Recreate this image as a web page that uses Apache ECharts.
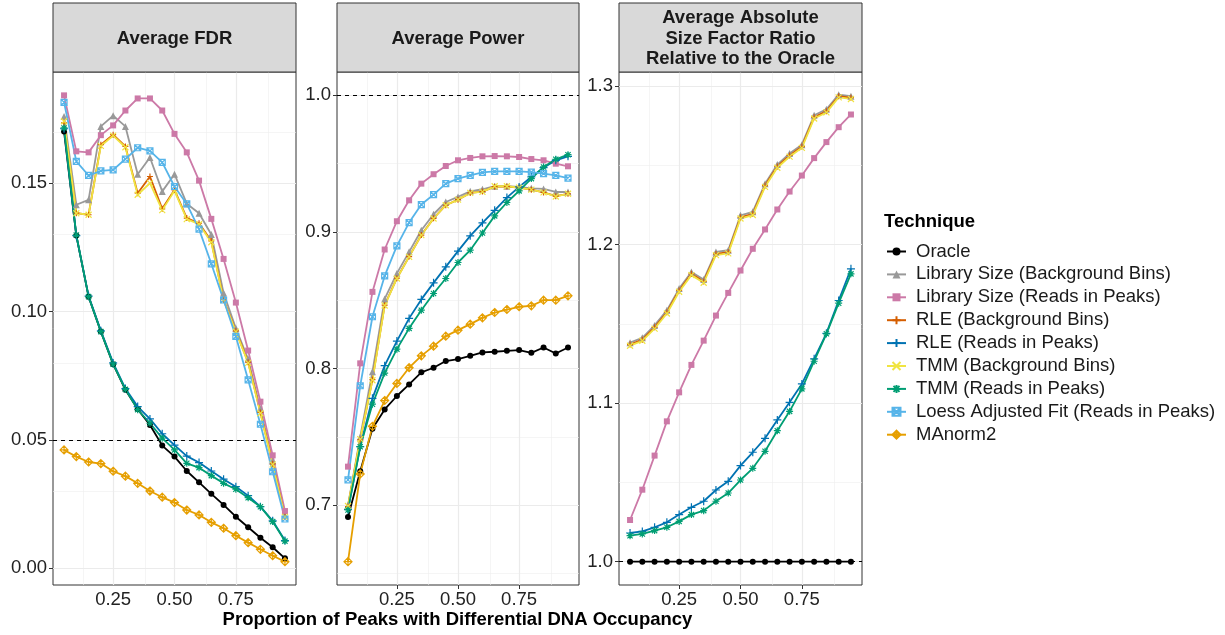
<!DOCTYPE html>
<html><head><meta charset="utf-8">
<script src="https://cdn.jsdelivr.net/npm/echarts@6/dist/echarts.min.js"></script>
<style>html,body{margin:0;padding:0;background:#fff}#c{width:1225px;height:635px}</style>
</head><body><div id="c"></div>
<script>
// ---------- data ----------
const proportion = [0.05,0.10,0.15,0.20,0.25,0.30,0.35,0.40,0.45,0.50,0.55,0.60,0.65,0.70,0.75,0.80,0.85,0.90,0.95];
const techniques = ['Oracle','Library Size (Background Bins)','Library Size (Reads in Peaks)','RLE (Background Bins)','RLE (Reads in Peaks)','TMM (Background Bins)','TMM (Reads in Peaks)','Loess Adjusted Fit (Reads in Peaks)','MAnorm2'];
const panelTitles = ['Average FDR','Average Power','Average Absolute\nSize Factor Ratio\nRelative to the Oracle'];
const xTicks = [0.25,0.50,0.75];
const yTicksFdr = [0.00,0.05,0.10,0.15];
const yTicksPower = [0.7,0.8,0.9,1.0];
const yTicksRatio = [1.0,1.1,1.2,1.3];
const refLines = [0.05,1.0,1.0];

// Average FDR
const fdrOracle   = [0.1701,0.1296,0.1058,0.0922,0.0795,0.0695,0.0620,0.0558,0.0478,0.0435,0.0379,0.0335,0.0290,0.0247,0.0201,0.0160,0.0119,0.0082,0.0039];
const fdrLibBg    = [0.1760,0.1416,0.1435,0.1721,0.1763,0.1721,0.1535,0.1600,0.1468,0.1535,0.1420,0.1383,0.1300,0.1072,0.0935,0.0815,0.0620,0.0418,0.0205];
const fdrLibReads = [0.1842,0.1624,0.1620,0.1687,0.1725,0.1783,0.1830,0.1830,0.1783,0.1692,0.1620,0.1510,0.1361,0.1205,0.1035,0.0848,0.0649,0.0440,0.0223];
const fdrRleBg    = [0.1735,0.1383,0.1377,0.1650,0.1689,0.1643,0.1461,0.1526,0.1400,0.1474,0.1364,0.1344,0.1275,0.1046,0.0925,0.0803,0.0607,0.0407,0.0201];
const fdrRleReads = [0.1712,0.1296,0.1060,0.0925,0.0800,0.0700,0.0630,0.0582,0.0524,0.0480,0.0437,0.0412,0.0379,0.0347,0.0318,0.0283,0.0240,0.0185,0.0108];
const fdrTmmBg    = [0.1741,0.1383,0.1377,0.1645,0.1685,0.1640,0.1455,0.1500,0.1395,0.1470,0.1360,0.1340,0.1270,0.1044,0.0922,0.0800,0.0604,0.0405,0.0200];
const fdrTmmReads = [0.1715,0.1298,0.1058,0.0922,0.0795,0.0697,0.0618,0.0565,0.0507,0.0461,0.0409,0.0392,0.0361,0.0331,0.0308,0.0275,0.0240,0.0182,0.0106];
const fdrLoess    = [0.1815,0.1585,0.1530,0.1548,0.1552,0.1594,0.1638,0.1626,0.1581,0.1487,0.1419,0.1321,0.1186,0.1045,0.0903,0.0734,0.0561,0.0376,0.0192];
const fdrMAnorm2  = [0.0461,0.0435,0.0414,0.0408,0.0378,0.0359,0.0331,0.0301,0.0277,0.0256,0.0227,0.0208,0.0179,0.0156,0.0127,0.0100,0.0074,0.0049,0.0026];

// Average Power
const powOracle   = [0.6915,0.7250,0.7560,0.7702,0.7800,0.7885,0.7973,0.8007,0.8056,0.8070,0.8094,0.8119,0.8124,0.8131,0.8136,0.8116,0.8155,0.8111,0.8155];
const powLibBg    = [0.7000,0.7500,0.7978,0.8510,0.8697,0.8855,0.9013,0.9130,0.9220,0.9257,0.9298,0.9313,0.9335,0.9335,0.9330,0.9320,0.9315,0.9293,0.9293];
const powLibReads = [0.7283,0.8039,0.8562,0.8872,0.9079,0.9232,0.9354,0.9423,0.9483,0.9525,0.9542,0.9554,0.9556,0.9554,0.9549,0.9534,0.9525,0.9500,0.9481];
const powRleBg    = [0.6990,0.7480,0.7920,0.8465,0.8662,0.8820,0.8978,0.9100,0.9196,0.9237,0.9286,0.9296,0.9332,0.9333,0.9325,0.9310,0.9290,0.9262,0.9280];
const powRleReads = [0.6970,0.7429,0.7783,0.8022,0.8202,0.8368,0.8507,0.8628,0.8745,0.8860,0.8972,0.9067,0.9159,0.9252,0.9330,0.9403,0.9471,0.9525,0.9554];
const powTmmBg    = [0.6995,0.7485,0.7915,0.8462,0.8660,0.8818,0.8977,0.9099,0.9196,0.9237,0.9286,0.9294,0.9335,0.9335,0.9325,0.9310,0.9290,0.9260,0.9280];
const powTmmReads = [0.6966,0.7429,0.7740,0.7968,0.8143,0.8295,0.8428,0.8550,0.8660,0.8777,0.8867,0.8993,0.9118,0.9216,0.9301,0.9391,0.9476,0.9532,0.9566];
const powLoess    = [0.7186,0.7875,0.8380,0.8679,0.8899,0.9069,0.9201,0.9274,0.9354,0.9391,0.9415,0.9437,0.9444,0.9444,0.9444,0.9439,0.9427,0.9415,0.9395];
const powMAnorm2  = [0.6588,0.7230,0.7578,0.7767,0.7892,0.8007,0.8094,0.8165,0.8238,0.8282,0.8326,0.8372,0.8411,0.8433,0.8453,0.8460,0.8501,0.8501,0.8533];

// Average Absolute Size Factor Ratio Relative to the Oracle
const ratioOracle   = [1,1,1,1,1,1,1,1,1,1,1,1,1,1,1,1,1,1,1];
const ratioLibBg    = [1.1381,1.1412,1.1490,1.1585,1.1722,1.1827,1.1779,1.1953,1.1964,1.2184,1.2206,1.2384,1.2504,1.2574,1.2630,1.2815,1.2853,1.2945,1.2935];
const ratioLibReads = [1.0263,1.0454,1.0669,1.0885,1.1068,1.1241,1.1394,1.1552,1.1695,1.1836,1.1973,1.2095,1.2221,1.2334,1.2435,1.2545,1.2646,1.2740,1.2820];
const ratioRleBg    = [1.1369,1.1400,1.1478,1.1573,1.1710,1.1815,1.1767,1.1941,1.1952,1.2172,1.2194,1.2372,1.2492,1.2562,1.2618,1.2803,1.2841,1.2935,1.2926];
const ratioRleReads = [1.0181,1.0191,1.0217,1.0248,1.0297,1.0343,1.0381,1.0452,1.0507,1.0606,1.0690,1.0778,1.0894,1.1005,1.1121,1.1279,1.1440,1.1647,1.1847];
const ratioTmmBg    = [1.1362,1.1393,1.1470,1.1565,1.1702,1.1807,1.1759,1.1933,1.1944,1.2164,1.2186,1.2364,1.2484,1.2554,1.2610,1.2795,1.2833,1.2928,1.2918];
const ratioTmmReads = [1.0164,1.0175,1.0196,1.0217,1.0254,1.0297,1.0322,1.0381,1.0433,1.0515,1.0589,1.0696,1.0826,1.0948,1.1090,1.1264,1.1437,1.1630,1.1815];

// ---------- styling ----------
const FONT = '"Liberation Sans", Arial, Helvetica, sans-serif';
const colors = ['#000000','#999999','#CC79A7','#D55E00','#0072B2','#F0E442','#009E73','#56B4E9','#E69F00'];
const symbols = [
  {symbol:'circle', size:6, filled:true},
  {symbol:'triangle', size:7, filled:true},
  {symbol:'rect', size:6, filled:true},
  {symbol:'path://M0,4L8,4M4,0L4,8', size:6, filled:false},
  {symbol:'path://M0,4L8,4M4,0L4,8', size:8, filled:false},
  {symbol:'path://M0,0L8,8M8,0L0,8', size:6, filled:false},
  {symbol:'path://M0,4L8,4M4,0L4,8M1,1L7,7M7,1L1,7', size:7, filled:false},
  {symbol:'path://M0,0L8,0L8,8L0,8ZM0,0L8,8M8,0L0,8', size:6, filled:false},
  {symbol:'path://M4,0L8,4L4,8L0,4ZM0,4L8,4M4,0L4,8', size:8, filled:false}
];
const panelData = [
  [fdrOracle,fdrLibBg,fdrLibReads,fdrRleBg,fdrRleReads,fdrTmmBg,fdrTmmReads,fdrLoess,fdrMAnorm2],
  [powOracle,powLibBg,powLibReads,powRleBg,powRleReads,powTmmBg,powTmmReads,powLoess,powMAnorm2],
  [ratioOracle,ratioLibBg,ratioLibReads,ratioRleBg,ratioRleReads,ratioTmmBg,ratioTmmReads,null,null]
];
const yTicks = [yTicksFdr, yTicksPower, yTicksRatio];
const yDigits = [2,1,1];
const yRanges = [[-0.0065,0.1933],[0.6417,1.0171],[0.9853,1.3088]];
const gridsPos = [{left:53, width:243},{left:337, width:242},{left:619, width:243}];
const TOP = 72, HEIGHT = 513;

const grids = [], xAxes = [], yAxes = [], series = [], graphics = [];
function minors(t){const r=[];for(let i=0;i<t.length-1;i++)r.push((t[i]+t[i+1])/2);return r;}

for (let p=0;p<3;p++){
  grids.push({left:gridsPos[p].left, top:TOP, width:gridsPos[p].width, height:HEIGHT,
    show:true, backgroundColor:'#fff', borderColor:'#333333', borderWidth:1});
  xAxes.push({type:'value', gridIndex:p, min:0.005, max:0.995,
    axisLine:{show:false}, splitLine:{show:false},
    axisTick:{show:true, customValues:xTicks, length:4, lineStyle:{color:'#333', width:1}},
    axisLabel:{customValues:xTicks, formatter:v=>v.toFixed(2), fontSize:18.5, color:'#222', margin:5, fontFamily:FONT}});
  yAxes.push({type:'value', gridIndex:p, min:yRanges[p][0], max:yRanges[p][1],
    axisLine:{show:false}, splitLine:{show:false},
    axisTick:{show:true, customValues:yTicks[p], length:4, lineStyle:{color:'#333', width:1}},
    axisLabel:{customValues:yTicks[p], formatter:v=>v.toFixed(yDigits[p]), fontSize:18.5, color:'#222', margin:6, fontFamily:FONT}});

  // gridlines
  const xMinor = [0.125].concat(minors(xTicks), [0.875]);
  const yT = yTicks[p];
  const step = yT[1]-yT[0];
  const yMinor = [yT[0]-step/2].concat(minors(yT), [yT[yT.length-1]+step/2]);
  const gl = [];
  xMinor.forEach(v=>gl.push({xAxis:v, lineStyle:{color:'#EFEFEF', width:0.6, type:'solid'}}));
  yMinor.forEach(v=>gl.push({yAxis:v, lineStyle:{color:'#EFEFEF', width:0.6, type:'solid'}}));
  xTicks.forEach(v=>gl.push({xAxis:v, lineStyle:{color:'#EBEBEB', width:1.2, type:'solid'}}));
  yT.forEach(v=>gl.push({yAxis:v, lineStyle:{color:'#EBEBEB', width:1.2, type:'solid'}}));
  series.push({type:'line', xAxisIndex:p, yAxisIndex:p, data:[], silent:true, z:1,
    markLine:{z:1, silent:true, symbol:['none','none'], label:{show:false}, animation:false, data:gl}});

  // reference dashed line (under the data lines)
  series.push({type:'line', xAxisIndex:p, yAxisIndex:p, data:[], silent:true, z:2,
    markLine:{z:2, silent:true, symbol:['none','none'], label:{show:false}, animation:false,
      data:[{yAxis:refLines[p]}], lineStyle:{color:'#000', width:1, type:[4,4]}}});

  panelData[p].forEach((ys,k)=>{
    if(!ys) return;
    const st = symbols[k];
    series.push({name:techniques[k], type:'line', xAxisIndex:p, yAxisIndex:p,
      data: proportion.map((x,i)=>[x, ys[i]]),
      symbol:st.symbol, symbolSize:st.size, showSymbol:true, silent:true, z:3,
      lineStyle:{color:colors[k], width:1.8},
      itemStyle: st.filled ? {color:colors[k]} : {color:'rgba(0,0,0,0)', borderColor:colors[k], borderWidth:1.2}
    });
  });

  // strip
  const g = gridsPos[p];
  graphics.push({type:'rect', shape:{x:g.left, y:3, width:g.width, height:TOP-3},
    style:{fill:'#D9D9D9', stroke:'#333333', lineWidth:1}, z:10});
  graphics.push({type:'text', x:g.left+g.width/2, y:38.5, z:11,
    style:{text:panelTitles[p], textAlign:'center', textVerticalAlign:'middle',
      font:'bold 18.5px '+FONT, fill:'#1a1a1a', lineHeight:20.5}});
}

graphics.push({type:'text', x:457.5, y:620, z:11,
  style:{text:'Proportion of Peaks with Differential DNA Occupancy', textAlign:'center', textVerticalAlign:'middle',
    font:'bold 18.5px '+FONT, fill:'#000'}});
graphics.push({type:'text', x:884, y:222, z:11,
  style:{text:'Technique', textAlign:'left', textVerticalAlign:'middle',
    font:'bold 18.5px '+FONT, fill:'#000'}});

const chart = echarts.init(document.getElementById('c'), null, {renderer:'canvas'});
chart.setOption({
  animation:false,
  backgroundColor:'#fff',
  grid:grids, xAxis:xAxes, yAxis:yAxes, series:series, graphic:graphics,
  legend:{orient:'vertical', left:886, top:242, padding:0, itemWidth:19, itemHeight:10, itemGap:3.9,
    selectedMode:false, data:techniques,
    textStyle:{fontSize:18.5, color:'#1a1a1a', fontFamily:FONT, lineHeight:18, padding:[0,0,0,5]}}
});
</script>
</body></html>
